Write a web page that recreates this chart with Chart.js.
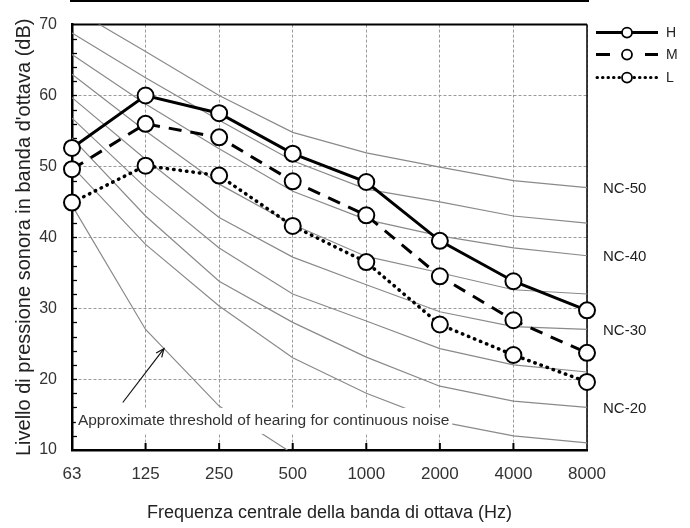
<!DOCTYPE html>
<html>
<head>
<meta charset="utf-8">
<script src="https://cdn.jsdelivr.net/npm/chart.js@4.4.1/dist/chart.umd.min.js"></script>
<style>
  body { margin: 0; background: #fff; }
  #wrap { width: 690px; height: 528px; }
</style>
</head>
<body>
<div id="wrap"><canvas id="chart" width="690" height="528"></canvas></div>
<script>
// octave band centre frequencies (Hz)
const bands = ["63", "125", "250", "500", "1000", "2000", "4000", "8000"];

// measured spectra (dB)
const levelH = [52.6, 60.0, 57.5, 51.8, 47.8, 39.5, 33.8, 29.7];
const levelM = [49.6, 56.0, 54.1, 47.9, 43.1, 34.5, 28.3, 23.7];
const levelL = [44.9, 50.1, 48.7, 41.6, 36.5, 27.7, 23.4, 19.6];

// NC curves
const nc50 = [72.3, 66.2, 60.0, 54.8, 51.9, 49.9, 48.0, 47.0];
const nc45 = [68.8, 62.5, 56.5, 50.8, 46.8, 45.0, 43.0, 42.0];
const nc40 = [65.8, 58.8, 52.5, 46.5, 42.5, 40.2, 38.5, 37.4];
const nc35 = [63.0, 55.0, 47.5, 41.8, 37.3, 35.0, 32.6, 32.0];
const nc30 = [59.7, 51.0, 42.8, 37.2, 33.3, 29.5, 27.4, 27.0];
const nc25 = [56.8, 47.0, 38.5, 32.0, 28.2, 24.3, 22.0, 21.0];
const nc20 = [54.0, 43.0, 33.8, 28.0, 23.1, 19.0, 16.9, 16.0];
const nc15 = [50.0, 39.0, 30.3, 23.0, 18.0, 14.0, 12.0, 11.0];
const hearing = [44.5, 27.0, 16.2, 9.5, null, null, null, null];

// curves that get a label at the right edge
const ncTags = [["NC-50", nc50], ["NC-40", nc40], ["NC-30", nc30], ["NC-20", nc20]];
const seriesNames = ["H", "M", "L"];

const FONT = "'Liberation Sans', Arial, sans-serif";

function ncSet(data) {
    return { data: data, borderColor: '#8a8a8a', borderWidth: 1.2, pointRadius: 0, order: 2, tension: 0 };
}

function seriesSet(label, data, dash, cap, width) {
    return {
        label: label, data: data, borderColor: '#000', borderWidth: width,
        borderDash: dash, borderCapStyle: cap, order: 0, tension: 0,
        pointRadius: 8, pointBackgroundColor: '#fff', pointBorderColor: '#000', pointBorderWidth: 2
    };
}

const decor = {
    id: 'decor',
    beforeDraw(chart) {
        var ctx = chart.ctx;
        ctx.save();
        ctx.fillStyle = '#fff';
        ctx.fillRect(0, 0, chart.width, chart.height);
        ctx.restore();
    },
    beforeDatasetsDraw(chart) {
        var ctx = chart.ctx, a = chart.chartArea, x = chart.scales.x, y = chart.scales.y;
        ctx.save();
        ctx.strokeStyle = '#000';
        // frame top + right
        ctx.lineWidth = 2;
        ctx.beginPath(); ctx.moveTo(a.left, a.top); ctx.lineTo(a.right, a.top); ctx.stroke();
        ctx.lineWidth = 1.5;
        ctx.beginPath(); ctx.moveTo(a.right, a.top); ctx.lineTo(a.right, a.bottom); ctx.stroke();
        // minor ticks inside the y axis
        ctx.lineWidth = 1.3;
        for (let v = 12; v < 70; v += 2) {
            let py = Math.round(y.getPixelForValue(v)) + 0.5;
            ctx.beginPath(); ctx.moveTo(a.left, py); ctx.lineTo(a.left + 5, py); ctx.stroke();
        }
        // ticks inside the x axis
        ctx.lineWidth = 2;
        for (let i = 1; i < bands.length - 1; i++) {
            let px = x.getPixelForValue(i);
            ctx.beginPath(); ctx.moveTo(px, a.bottom); ctx.lineTo(px, a.bottom - 7); ctx.stroke();
        }
        // rule across the top of the figure
        ctx.beginPath(); ctx.moveTo(a.left - 2, 1); ctx.lineTo(a.right + 2, 1); ctx.stroke();
        ctx.restore();
    },
    afterDatasetsDraw(chart) {
        var ctx = chart.ctx, a = chart.chartArea, x = chart.scales.x, y = chart.scales.y;
        ctx.save();

        // threshold note, white box hides the curves behind it
        var note = "Approximate threshold of hearing for continuous noise";
        ctx.font = "15.5px " + FONT;
        var tx = x.getPixelForValue(0.08), ty = y.getPixelForValue(14.1);
        var tw = ctx.measureText(note).width;
        ctx.fillStyle = '#fff';
        ctx.fillRect(tx - 2, ty - 13, tw + 5, 26);
        ctx.fillStyle = '#333';
        ctx.textBaseline = 'middle';
        ctx.fillText(note, tx, ty);

        // arrow to the threshold curve
        var x0 = x.getPixelForValue(0.69), y0 = y.getPixelForValue(16.7);
        var x1 = x.getPixelForValue(1.25), y1 = y.getPixelForValue(24.3);
        var ang = Math.atan2(y1 - y0, x1 - x0);
        ctx.strokeStyle = '#111';
        ctx.lineWidth = 1.2;
        ctx.beginPath(); ctx.moveTo(x0, y0); ctx.lineTo(x1, y1); ctx.stroke();
        ctx.beginPath();
        ctx.moveTo(x1 - 9 * Math.cos(ang - 0.4), y1 - 9 * Math.sin(ang - 0.4));
        ctx.lineTo(x1, y1);
        ctx.lineTo(x1 - 9 * Math.cos(ang + 0.4), y1 - 9 * Math.sin(ang + 0.4));
        ctx.stroke();

        // NC labels at right edge
        ctx.font = "15px " + FONT;
        ctx.fillStyle = '#222';
        for (let [name, curve] of ncTags) {
            ctx.fillText(name, a.right + 16, y.getPixelForValue(curve[curve.length - 1]) + 1);
        }

        // legend
        var lx = a.right + 9, rows = [a.top + 8, a.top + 30, a.top + 53];
        ctx.strokeStyle = '#000';
        ctx.lineWidth = 3;
        for (let i = 0; i < seriesNames.length; i++) {
            let ly = rows[i];
            ctx.beginPath();
            if (i == 0) {
                ctx.moveTo(lx, ly); ctx.lineTo(lx + 62, ly); ctx.stroke();
            } else if (i == 1) {
                ctx.moveTo(lx, ly); ctx.lineTo(lx + 14, ly);
                ctx.moveTo(lx + 49, ly); ctx.lineTo(lx + 62, ly); ctx.stroke();
            } else {
                ctx.lineCap = 'round';
                ctx.setLineDash([0.5, 5]);
                ctx.moveTo(lx + 1, ly); ctx.lineTo(lx + 25, ly);
                ctx.moveTo(lx + 38, ly); ctx.lineTo(lx + 61, ly); ctx.stroke();
                ctx.setLineDash([]);
                ctx.lineCap = 'butt';
            }
            ctx.beginPath();
            ctx.arc(lx + 31, ly, 5, 0, Math.PI * 2);
            ctx.fillStyle = '#fff'; ctx.fill();
            ctx.lineWidth = 1.8; ctx.stroke();
            ctx.lineWidth = 3;
            ctx.font = "14px " + FONT;
            ctx.fillStyle = '#222';
            ctx.fillText(seriesNames[i], lx + 70, ly + 1);
        }
        ctx.restore();
    }
};

var datasets = [
    seriesSet("H", levelH, [], 'butt', 3),
    seriesSet("M", levelM, [13, 9], 'butt', 3),
    seriesSet("L", levelL, [0.5, 6], 'round', 3.5),
    ncSet(nc50), ncSet(nc45), ncSet(nc40), ncSet(nc35),
    ncSet(nc30), ncSet(nc25), ncSet(nc20), ncSet(nc15), ncSet(hearing)
];

new Chart(document.getElementById("chart"), {
    type: "line",
    data: { labels: bands, datasets: datasets },
    options: {
        responsive: false,
        animation: false,
        layout: { padding: { top: 16, right: 103, left: 0, bottom: 0 } },
        plugins: { legend: { display: false }, tooltip: { enabled: false } },
        scales: {
            x: {
                offset: false,
                grid: { color: '#9a9a9a', lineWidth: 1, drawTicks: false },
                border: { display: true, color: '#000', width: 2.5, dash: [3, 2] },
                ticks: { font: { size: 17, family: FONT }, color: '#333', padding: 14, maxRotation: 0 },
                title: { display: true, text: "Frequenza centrale della banda di ottava (Hz)",
                         font: { size: 18, family: FONT }, color: '#222', padding: { top: 0, bottom: 4 } },
                afterFit: (s) => { s.height = 78; }
            },
            y: {
                min: 10, max: 70,
                grid: { color: '#9a9a9a', lineWidth: 1, drawTicks: false },
                border: { display: true, color: '#000', width: 2.5, dash: [3, 2] },
                ticks: { stepSize: 10, font: { size: 16, family: FONT }, color: '#333', padding: 15 },
                title: { display: true, text: "Livello di pressione sonora in banda d'ottava (dB)",
                         font: { size: 20, family: FONT }, color: '#222', padding: { top: 12, bottom: 0 } },
                afterFit: (s) => { s.width = 72; }
            }
        }
    },
    plugins: [decor]
});
</script>
</body>
</html>
